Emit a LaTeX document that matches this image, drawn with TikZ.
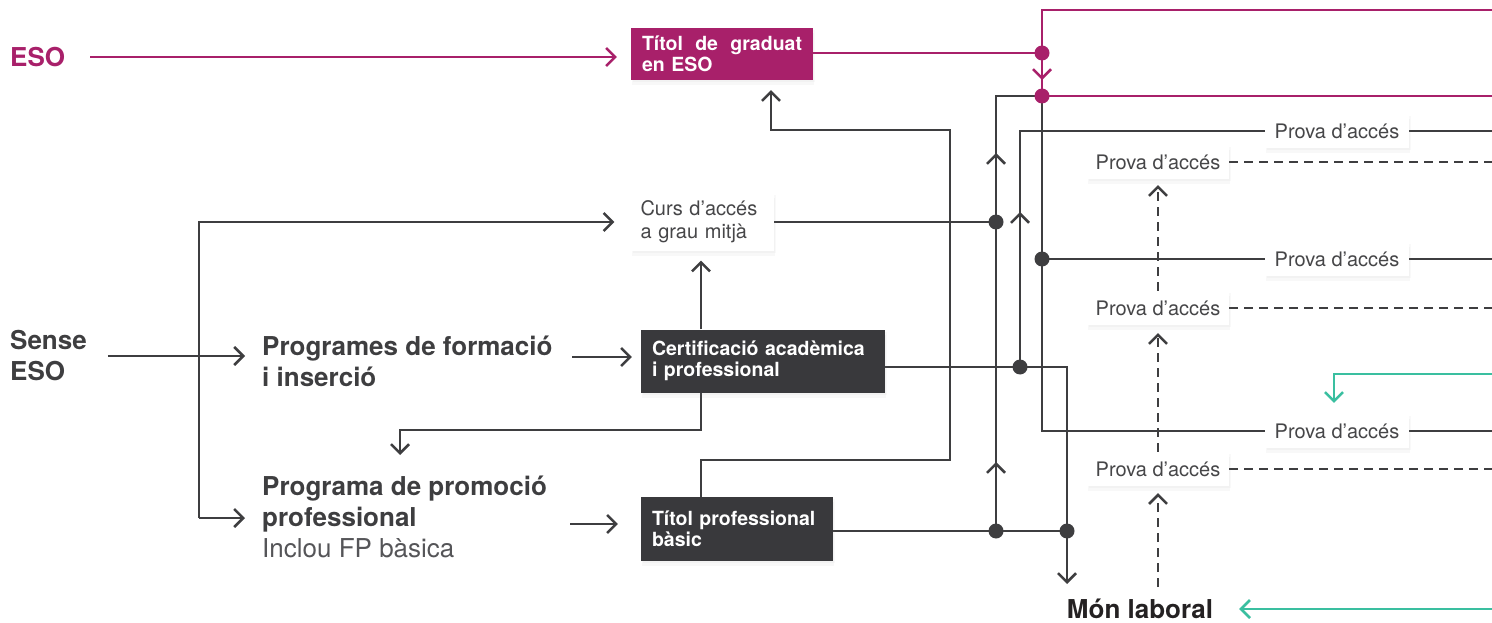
\documentclass[tikz,border=0pt]{standalone}
\usepackage{fontspec}
\setmainfont{TeX Gyre Heros}
\usepackage{xcolor}
\usepackage{tikz}
\usetikzlibrary{arrows.meta}
\usetikzlibrary{positioning}
\usetikzlibrary{calc}
\usetikzlibrary{shadows}
\usetikzlibrary{decorations.markings}
\definecolor{esomag}{RGB}{168,32,106}
\definecolor{boxgrey}{RGB}{57,57,60}
\definecolor{linegrey}{RGB}{62,62,64}
\definecolor{txtgrey}{RGB}{70,70,72}
\definecolor{lightgrey}{RGB}{85,85,88}
\definecolor{laboral}{RGB}{36,33,34}
\definecolor{tealgreen}{RGB}{58,191,160}
\pgfdeclarelayer{bg}
\pgfsetlayers{bg,main}

\begin{document}
\begin{tikzpicture}[x=1pt, y=-1pt, >={Straight Barb[length=9pt,width=18pt]},
	every node/.style={inner sep=0pt, text=linegrey},
	bigtext/.style={anchor=west, align=left, font=\fontsize{26}{31}\selectfont\bfseries},
	boxshadow/.style={drop shadow={shadow xshift=1pt, shadow yshift=-5pt, opacity=0.06}, drop shadow={shadow xshift=2pt, shadow yshift=-2pt, opacity=0.05}},
	titlebox/.style={boxshadow, fill=#1, text=white, align=left, inner xsep=11pt, font=\fontsize{19.5}{21}\selectfont\bfseries},
	whitebox/.style={boxshadow, fill=white, text=txtgrey, font=\fontsize{20}{23}\selectfont},
	flow/.style={draw=linegrey, line width=2.5pt},
	esoflow/.style={draw=esomag, line width=2.5pt},
	exitflow/.style={draw=tealgreen, line width=2.5pt},
	dashflow/.style={draw=linegrey, line width=2.5pt, dash pattern=on 9pt off 6pt},
	midarrow/.style={postaction={decorate, decoration={markings, mark=at position #1 with {\arrow{>}}}}}]
			\useasboundingbox (0,0) rectangle (1492,623);
			% boxes and labels
			\node[bigtext, text=esomag] (eso) at (10,57) {ESO};
			\node[titlebox=esomag, text width=160pt, minimum height=52pt] (graduat) at (722,54) {Títol\hfill de\hfill graduat\\en ESO};
			\node[bigtext] (sense) at (10,356) {Sense\\ESO};
			\node[bigtext] (pfi) at (262,361) {Programes de formació\\i inserció};
			\node[bigtext] (ppp) at (262,517) {Programa de promoció\\professional\\{\mdseries\color{lightgrey}Inclou FP bàsica}};
			\node[whitebox, align=left, inner xsep=10pt, text width=123pt, minimum height=57pt] (curs) at (702,222) {Curs d’accés\\a grau mitjà};
			\node[titlebox=boxgrey, text width=222pt, minimum height=63pt] (cert) at (763,361) {Certificació acadèmica\\i professional};
			\node[titlebox=boxgrey, text width=170pt, minimum height=64pt] (tpb) at (737,529) {Títol professional\\bàsic};
			\node[font=\fontsize{26}{31}\selectfont\bfseries, text=laboral] (mon) at (1140,609) {Món laboral};
			\foreach \y[count=\i] in {131, 259, 431}
			{
				\node[whitebox, minimum width=144pt, minimum height=34pt] (pr\i) at (1337,\y) {Prova d’accés};
			}
			\foreach \y[count=\i] in {162, 308, 469}
			{
				\node[whitebox, minimum width=142pt, minimum height=34pt] (pl\i) at (1158,\y) {Prova d’accés};
			}
			% junctions and bends
			\coordinate (redge) at (1492,0);
			\coordinate (g1) at (1042,53);
			\coordinate (g2) at (1042,96);
			\coordinate (gtop) at (1042,10);
			\coordinate (j1) at (996,222);
			\coordinate (j2) at (1020,367);
			\coordinate (j3) at (1042,259);
			\coordinate (j4) at (1067,367);
			\coordinate (j5) at (996,531);
			\coordinate (j6) at (1067,531);
			\coordinate (labout) at (1067,584);
			\coordinate (fk1) at (199,222);
			\coordinate (fk2) at (199,518);
			\coordinate (pfiout) at (572,357);
			\coordinate (pppout) at (570,524);
			\coordinate (vx) at (701,0);
			\coordinate (lp1) at (950,460);
			\coordinate (lp2) at (950,130);
			\coordinate (lp3) at (771,130);
			\coordinate (dn) at (400,430);
			\coordinate (dnend) at (400,455);
			\coordinate (dbot) at (1158,587);
			\coordinate (tl) at (1334,374);
			\begin{pgfonlayer}{bg}
				% ESO
				\draw[esoflow, ->, shorten <=25pt, shorten >=14pt] (eso.east) -- (eso.east -| graduat.west);
				\draw[esoflow] (graduat.east |- g1) -- (g1) -- (gtop) -- (gtop -| redge);
				\draw[esoflow, midarrow=27pt] (g1) -- (g2);
				\draw[esoflow] (g2) -- (g2 -| redge);
				% sense ESO
				\draw[flow, ->, shorten <=21pt, shorten >=17pt] (sense.east) -- (sense.east -| pfi.west);
				\draw[flow, ->, shorten >=16pt] (fk2) -- (fk1) -- (curs.west);
				\draw[flow, ->, shorten >=17pt] (fk2) -- (fk2 -| ppp.west);
				\draw[flow, ->, shorten >=9pt] (pfiout) -- (pfiout -| cert.west);
				\draw[flow, ->, shorten >=23pt] (pppout) -- (pppout -| tpb.west);
				\draw[flow, ->, shorten >=10pt] (vx |- cert.north) -- (vx |- curs.south);
				\draw[flow, ->] (vx |- cert.south) -- (vx |- dn) -- (dn) -- (dnend);
				\draw[flow, ->, shorten >=10pt] (vx |- tpb.north) -- (vx |- lp1) -- (lp1) -- (lp2) -- (lp3) -- (lp3 |- graduat.south);
				\draw[flow] (curs.east) -- (j1);
				\draw[flow, midarrow=69pt, midarrow=378pt] (j5) -- (j5 |- g2) -- (g2);
				\draw[flow, midarrow=155pt] (j2) -- (j2 |- pr1) -- (pr1) -- (pr1 -| redge);
				\draw[flow] (g2) -- (g2 |- pr3) -- (pr3) -- (pr3 -| redge);
				\draw[flow] (j3) -- (pr2) -- (pr2 -| redge);
				\draw[flow, ->] (cert.east |- j2) -- (j4) -- (labout);
				\draw[flow] (tpb.east |- j5) -- (j6);
				% proves
				\draw[dashflow, ->, shorten >=7pt] (dbot) -- (pl3.south);
				\draw[dashflow, ->, shorten >=8pt] (pl3.north) -- (pl2.south);
				\draw[dashflow, ->, shorten >=6pt] (pl2.north) -- (pl1.south);
				\foreach \i in {1,2,3}
				{
					\draw[dashflow] (pl\i.east) -- (pl\i.east -| redge);
				}
				% retorn
				\draw[exitflow, ->, shorten >=11pt] (tl -| redge) -- (tl) -- (tl |- pr3.north);
				\draw[exitflow, ->, shorten >=26pt] (mon.east -| redge) -- (mon.east);
			\end{pgfonlayer}
			\foreach \p in {j1, j2, j3, j5, j6}
			{
				\fill[linegrey] (\p) circle (7.5pt);
			}
			\foreach \p in {g1, g2}
			{
				\fill[esomag] (\p) circle (7.5pt);
			}
		\end{tikzpicture}
\end{document}
